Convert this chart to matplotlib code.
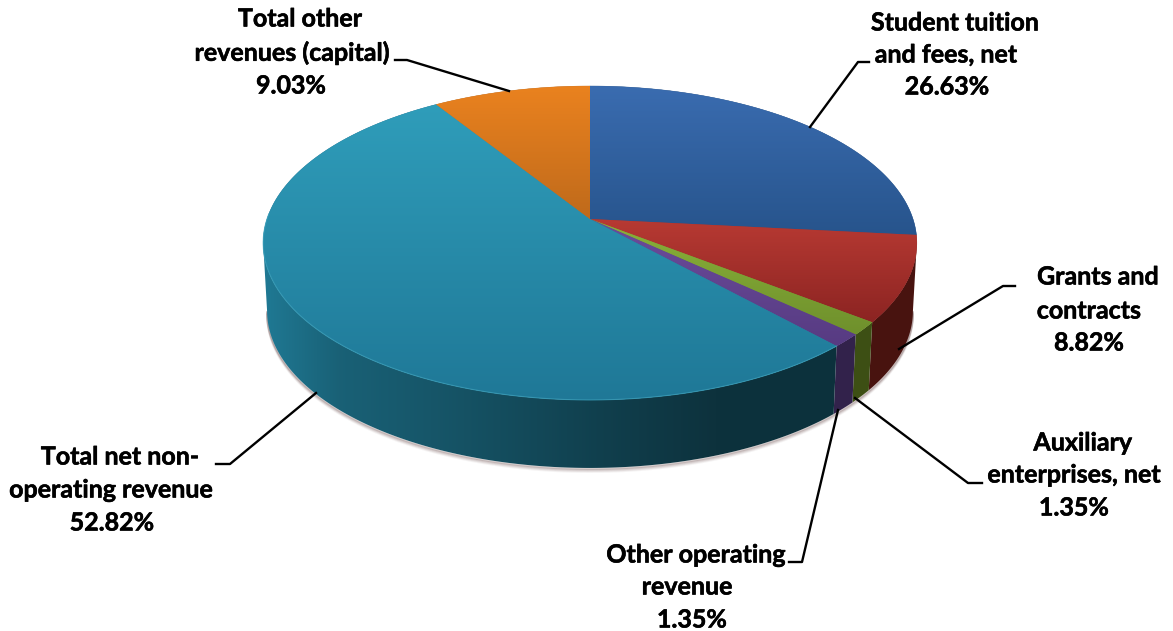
# -*- coding: utf-8 -*-
"""
3D style pie of revenue shares, top face and wall built from the share values.
"""
import matplotlib
matplotlib.use("Agg")
import matplotlib.patheffects as pe
import matplotlib.pyplot as plt
import numpy as np
from matplotlib.colors import LinearSegmentedColormap, to_rgb
from matplotlib.patches import Polygon

#%% Data
labels = [["Student tuition", "and fees, net", "26.63%"],
          ["Grants and", "contracts", "8.82%"],
          ["Auxiliary", "enterprises, net", "1.35%"],
          ["Other operating", "revenue", "1.35%"],
          ["Total net non-", "operating revenue", "52.82%"],
          ["Total other", "revenues (capital)", "9.03%"]]
shares = [26.63, 8.82, 1.35, 1.35, 52.82, 9.03]
top_light = ["#3a6cb0", "#b83a33", "#8ab23a", "#6c4c9c", "#2f9dba", "#ea821f"]
top_dark = ["#27548c", "#8c2422", "#6f902c", "#573b82", "#1f7897", "#bf6a1b"]
wall_cols = ["#3a6cb0", "#9a2a20", "#82aa2c", "#6c4aa0", "#217f9b", "#ea821f"]

# Label line centres and leader lines, in pixels
label_x = [(955, 946, 947), (1098, 1089, 1089), (1083, 1074, 1074),
           (696, 687, 692), (120, 111, 112), (300, 292, 291)]
label_y = [(23, 55, 87), (277, 311, 343), (443, 475, 508),
           (555, 587, 620), (457, 490, 523), (19, 53, 86)]
leaders = [[(810, 127), (858, 62), (869, 62)],
           [(899, 349), (1003, 286), (1015, 286)],
           [(855, 398), (968, 483), (982, 483)],
           [(838, 410), (802, 562), (789, 562)],
           [(316, 393), (230, 464), (216, 464)],
           [(509, 91), (407, 60), (395, 60)]]

APEX = (590, 219)
SX, SY, K = 323.0, 153.3, 0.1528
WALL = 68
WALL_SCALE = 0.988


def rim(angle_deg, drop=0.0, scale=1.0):
    # perspective projection of the disc edge, angle clockwise from 12 o'clock
    a = np.radians(angle_deg)
    x = np.sin(a)
    y = -np.cos(a)
    w = 1 - K * y
    return APEX[0] + scale * SX * x / w, APEX[1] + SY * y / w + drop


#%% Figure
fig = plt.figure(figsize=(11.73, 6.31), dpi=100)
ax = fig.add_axes([0, 0, 1, 1])
ax.set_xlim(0, 1173)
ax.set_ylim(631, 0)
ax.axis("off")

edges = np.concatenate([[0], np.cumsum(shares)]) * 3.6

# wall only shows between the two silhouette points of the projected disc
side = np.degrees(np.arccos(K))
wall_lo, wall_hi = 90 + (90 - side), 270 - (90 - side)

# soft shadow under the wall
t = np.linspace(wall_lo, wall_hi, 200)
for off, alpha in zip([4, 3, 2, 1], [0.06, 0.1, 0.16, 0.25]):
    sx, sy = rim(t, WALL + off, WALL_SCALE)
    ax.plot(sx, sy, color="#604040", lw=1.5, alpha=alpha, zorder=1)

# wall, shaded left to right with a clipped image
ramp_x = [265, 340, 450, 600, 720, 920]
ramp_v = [0.95, 0.76, 0.66, 0.5, 0.39, 0.39]
for i in range(len(shares)):
    lo, hi = max(edges[i], wall_lo), min(edges[i + 1], wall_hi)
    if hi <= lo:
        continue
    t = np.linspace(lo, hi, max(3, int((hi - lo) * 3)))
    xa, ya = rim(t)
    xb, yb = rim(t[::-1], WALL, WALL_SCALE)
    pts = np.vstack([np.column_stack([xa, ya]), np.column_stack([xb, yb])])
    base = np.array(to_rgb(wall_cols[i]))
    poly = Polygon(pts, closed=True, facecolor="none", edgecolor="none", zorder=2)
    ax.add_patch(poly)
    xx = np.linspace(250, 930, 680)
    shade = np.interp(xx, ramp_x, ramp_v) if i == 4 else np.full(xx.shape, 0.47)
    rgb = (base[None, None, :] * shade[None, :, None]).clip(0, 1)
    im = ax.imshow(rgb, extent=(250, 930, 480, 230), aspect="auto", zorder=2)
    im.set_clip_path(poly)

# top face, each slice with its own vertical gradient
grad = np.linspace(0, 1, 256).reshape(-1, 1)
for i in range(len(shares)):
    t = np.linspace(edges[i], edges[i + 1], max(3, int(shares[i] * 12)))
    xa, ya = rim(t)
    pts = np.vstack([[APEX], np.column_stack([xa, ya])])
    poly = Polygon(pts, closed=True, facecolor=top_dark[i], edgecolor=top_dark[i], lw=0.3, zorder=3)
    ax.add_patch(poly)
    cmap = LinearSegmentedColormap.from_list("c%d" % i, [top_light[i], top_dark[i]])
    im = ax.imshow(grad, cmap=cmap, extent=(250, 930, pts[:, 1].max(), pts[:, 1].min()),
                   aspect="auto", zorder=4)
    im.set_clip_path(poly)

# light rim along the front edge of the big slice
t = np.linspace(max(edges[4], 135), 272, 200)
xa, ya = rim(t)
ax.plot(xa, ya, color="#3fa6c0", lw=0.8, alpha=0.6, zorder=5)
ax.set_xlim(0, 1173)
ax.set_ylim(631, 0)

# labels and leader lines
for lines, xs, ys, line in zip(labels, label_x, label_y, leaders):
    for txt, lx, ly in zip(lines, xs, ys):
        ax.text(lx, ly, txt, ha="center", va="center", family="Lato", fontweight="bold",
                fontsize=18, color="black", zorder=7,
                path_effects=[pe.withStroke(linewidth=0.4, foreground="black")])
    px, py = zip(*line)
    ax.plot(px, py, color="black", lw=1.7, solid_joinstyle="round", zorder=6)

fig.savefig("out.png", dpi=100)
